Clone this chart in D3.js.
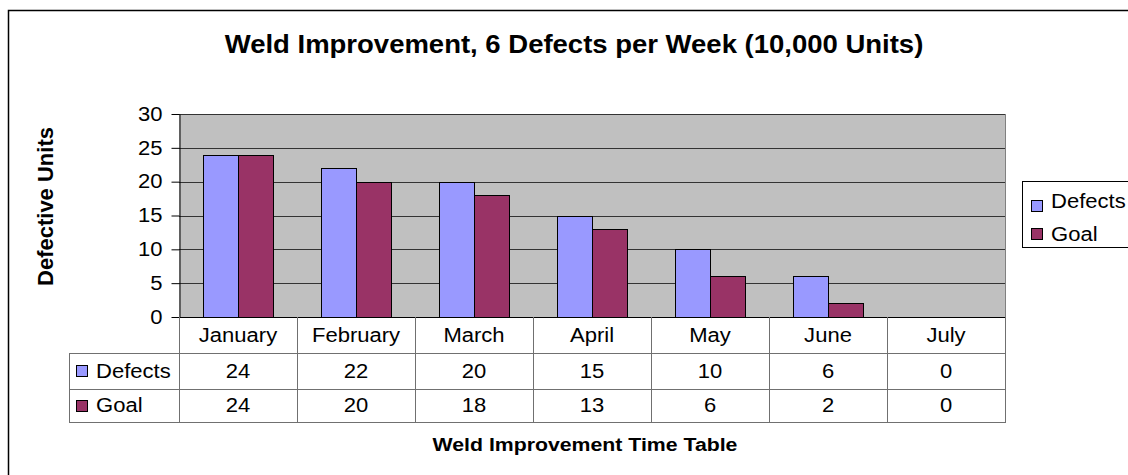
<!DOCTYPE html>
<html><head><meta charset="utf-8">
<script src="https://cdn.jsdelivr.net/npm/d3@7"></script>
<style>
html,body{margin:0;padding:0;background:#fff;}
svg{display:block;font-family:"Liberation Sans",Arial,sans-serif;}
</style></head>
<body>
<svg id="chart" width="1128" height="475"></svg>
<script>
const categories = ["January","February","March","April","May","June","July"];
const defects = [24,22,20,15,10,6,0];
const goal = [24,20,18,13,6,2,0];
const seriesNames = ["Defects","Goal"];
const yTicks = [0,5,10,15,20,25,30];
const titleText = "Weld Improvement, 6 Defects per Week (10,000 Units)";
const yLabel = "Defective Units";
const xLabel = "Weld Improvement Time Table";

const colors = {Defects:"#9999FF", Goal:"#993366"};
const series = [defects, goal];

const SX = 1.13;      // horizontal text stretch of the original
const FS = 19.5;      // regular font size

const svg = d3.select("#chart");
const plot = {left:179, right:1005, top:114, bottom:317};
const rows = {cat:[317,353], s0:[353,389], s1:[389,422]};
const legendColLeft = 69;

function stext(g, x, y, str, opts={}) {
  const t = g.append("text")
    .attr("transform", `translate(${x},${y}) scale(${opts.sx||SX},1)`)
    .attr("text-anchor", opts.anchor || "start")
    .attr("font-size", opts.fs || FS)
    .attr("fill", "#000")
    .text(str);
  if (opts.bold) t.attr("font-weight","bold");
  if (opts.dy) t.attr("dy", opts.dy);
  return t;
}

// outer border
svg.append("rect").attr("x",8.5).attr("y",10.5).attr("width",1300).attr("height",600)
  .attr("fill","none").attr("stroke","#000").attr("stroke-width",1.5);

const x = d3.scaleBand().domain(categories).range([plot.left, plot.right]).paddingInner(0).paddingOuter(0);
const x1 = d3.scaleBand().domain(seriesNames).range([0, x.bandwidth()]).paddingInner(0).paddingOuter(0.686);
const y = d3.scaleLinear().domain([0,30]).range([plot.bottom, plot.top]);

// plot background
svg.append("rect").attr("x",plot.left).attr("y",plot.top)
  .attr("width",plot.right-plot.left).attr("height",plot.bottom-plot.top).attr("fill","#C0C0C0");

// gridlines
svg.append("g").selectAll("line").data(yTicks.filter(t=>t>0)).join("line")
  .attr("x1",plot.left).attr("x2",plot.right)
  .attr("y1",d=>Math.round(y(d))+0.5).attr("y2",d=>Math.round(y(d))+0.5)
  .attr("stroke","#333").attr("stroke-width",1);

// right border of plot
svg.append("line").attr("x1",plot.right+0.5).attr("x2",plot.right+0.5)
  .attr("y1",plot.top).attr("y2",plot.bottom).attr("stroke","#808080");

// bars
const barData = [];
categories.forEach((c,i)=>{
  seriesNames.forEach((s,j)=>{ barData.push({cat:c, s:s, v:series[j][i]}); });
});
svg.append("g").selectAll("rect").data(barData.filter(d=>d.v>0)).join("rect")
  .attr("x",d=>Math.round(x(d.cat)+x1(d.s))+0.5)
  .attr("y",d=>Math.round(y(d.v))+0.5)
  .attr("width",d=>Math.round(x1.bandwidth()))
  .attr("height",d=>Math.round(y(0))-Math.round(y(d.v)))
  .attr("fill",d=>colors[d.s]).attr("stroke","#000").attr("stroke-width",1);

// y axis
const yAxis = d3.axisLeft(y).tickValues(yTicks).tickSize(8).tickSizeOuter(0).tickPadding(9);
const ga = svg.append("g").attr("transform",`translate(${plot.left+0.5},0)`).call(yAxis);
ga.selectAll("path,line").attr("stroke","#000");
ga.selectAll("text").attr("font-size",FS).attr("fill","#000")
  .attr("font-family","Liberation Sans, Arial, sans-serif")
  .attr("x",0).attr("transform",`translate(-17,0) scale(${SX},1)`);

// data table
const tbl = svg.append("g");
const lineCol = "#707070";
tbl.append("line").attr("x1",plot.left).attr("x2",plot.right).attr("y1",rows.cat[0]+0.5).attr("y2",rows.cat[0]+0.5).attr("stroke","#000");
[rows.s0[0], rows.s1[0], rows.s1[1]].forEach(yy=>{
  tbl.append("line").attr("x1",legendColLeft).attr("x2",plot.right+1).attr("y1",yy+0.5).attr("y2",yy+0.5).attr("stroke",lineCol);
});
tbl.selectAll("line.v").data(categories.slice(1)).join("line").attr("class","v")
  .attr("x1",d=>Math.round(x(d))+0.5).attr("x2",d=>Math.round(x(d))+0.5)
  .attr("y1",rows.cat[0]).attr("y2",rows.s1[1]).attr("stroke",lineCol);
tbl.append("line").attr("x1",plot.left+0.5).attr("x2",plot.left+0.5).attr("y1",rows.cat[0]).attr("y2",rows.s1[1]).attr("stroke",lineCol);
tbl.append("line").attr("x1",plot.right+0.5).attr("x2",plot.right+0.5).attr("y1",rows.cat[0]).attr("y2",rows.s1[1]).attr("stroke",lineCol);
tbl.append("line").attr("x1",legendColLeft+0.5).attr("x2",legendColLeft+0.5).attr("y1",rows.s0[0]).attr("y2",rows.s1[1]).attr("stroke",lineCol);

// category labels
categories.forEach(c=>{
  stext(tbl, x(c)+x.bandwidth()/2, (rows.cat[0]+rows.cat[1])/2, c, {anchor:"middle", dy:"0.35em"});
});
// values + row headers
const rowKeys = ["s0","s1"];
series.forEach((vals,j)=>{
  const r = rows[rowKeys[j]];
  const cy = (r[0]+r[1])/2;
  vals.forEach((v,i)=>{
    stext(tbl, x(categories[i])+x.bandwidth()/2, cy, v, {anchor:"middle", dy:"0.35em"});
  });
  tbl.append("rect").attr("x",76.5).attr("y",Math.round(cy)-5.5).attr("width",11).attr("height",11)
    .attr("fill",colors[seriesNames[j]]).attr("stroke","#000");
  stext(tbl, 96, cy, seriesNames[j], {dy:"0.35em"});
});

// legend
const lg = svg.append("g");
lg.append("rect").attr("x",1022.5).attr("y",181.5).attr("width",200).attr("height",66)
  .attr("fill","#fff").attr("stroke","#000");
const legRows = [{text:201, sw:206},{text:234, sw:234}];
seriesNames.forEach((s,j)=>{
  lg.append("rect").attr("x",1031.5).attr("y",legRows[j].sw-5.5).attr("width",11).attr("height",11)
    .attr("fill",colors[s]).attr("stroke","#000");
  stext(lg, 1051, legRows[j].text, s, {dy:"0.35em"});
});

// titles
stext(svg, 574, 53, titleText, {anchor:"middle", fs:25, bold:true, sx:1.1});
svg.append("text").attr("transform","translate(53,206.5) rotate(-90)").attr("text-anchor","middle")
  .attr("font-size",22).attr("font-weight","bold").text(yLabel);
stext(svg, 585, 451, xLabel, {anchor:"middle", fs:19, bold:true, sx:1.12});
</script>
</body></html>
